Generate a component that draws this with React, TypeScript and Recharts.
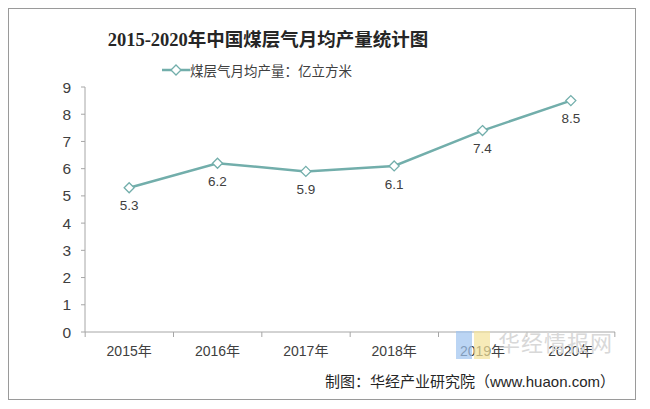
import { LineChart, Line, XAxis, YAxis, LabelList, Legend } from 'recharts';

const years = ['2015年', '2016年', '2017年', '2018年', '2019年', '2020年'];
const output = [5.3, 6.2, 5.9, 6.1, 7.4, 8.5];
const yTicks = [0, 1, 2, 3, 4, 5, 6, 7, 8, 9];
const seriesName = '煤层气月均产量：亿立方米';

const chartData = years.map((year, i) => ({ year, value: output[i] }));

const LINE_COLOR = '#72aeab';
const TEXT_COLOR = '#404040';
const AXIS_COLOR = '#a6a6a6';
const FONT = '"Liberation Sans", "Noto Sans CJK SC", sans-serif';

function Diamond({ cx, cy }: any) {
  if (cx == null || cy == null) return null;
  const r = 5;
  return (
    <path
      d={`M${cx},${cy - r}L${cx + r},${cy}L${cx},${cy + r}L${cx - r},${cy}Z`}
      fill="#fff"
      stroke={LINE_COLOR}
      strokeWidth={1.3}
    />
  );
}

function XTick({ x, y, payload, index }: any) {
  const half = 44;
  return (
    <g>
      <line x1={x - half} x2={x - half} y1={y - 8} y2={y - 3} stroke={AXIS_COLOR} />
      {index === years.length - 1 && (
        <line x1={x + half} x2={x + half} y1={y - 8} y2={y - 3} stroke={AXIS_COLOR} />
      )}
      <text x={x} y={y + 16} textAnchor="middle" fill={TEXT_COLOR} fontSize={14} fontFamily={FONT}>
        {payload.value}
      </text>
    </g>
  );
}

function LegendContent() {
  return (
    <div style={{ display: 'flex', justifyContent: 'center', alignItems: 'center', marginLeft: -146 }}>
      <svg width={28} height={12}>
        <line x1={0} x2={28} y1={6} y2={6} stroke={LINE_COLOR} strokeWidth={2.5} />
        <path d="M14,1L19,6L14,11L9,6Z" fill="#fff" stroke={LINE_COLOR} strokeWidth={1.3} />
      </svg>
      <span style={{ fontSize: 13.5, color: TEXT_COLOR, fontFamily: FONT }}>{seriesName}</span>
    </div>
  );
}

export default function App() {
  return (
    <div
      style={{
        position: 'relative',
        width: 626,
        height: 390,
        border: '1px solid #9a9a9a',
        background: '#fff',
      }}
    >
      <div
        style={{
          position: 'absolute',
          top: 16,
          left: 0,
          width: 518,
          textAlign: 'center',
          fontSize: 18.5,
          fontWeight: 'bold',
          color: '#262626',
          fontFamily: '"Liberation Serif", "Noto Sans CJK SC", serif',
        }}
      >
        2015-2020年中国煤层气月均产量统计图
      </div>
      <LineChart
        width={626}
        height={390}
        data={chartData}
        margin={{ top: 58, right: 20, bottom: 43, left: 36 }}
      >
        <Legend verticalAlign="top" align="center" content={<LegendContent />} wrapperStyle={{ top: 51 }} />
        <XAxis
          dataKey="year"
          scale="band"
          axisLine={{ stroke: AXIS_COLOR }}
          tickLine={false}
          tick={<XTick />}
          height={24}
          interval={0}
        />
        <YAxis
          domain={[0, 9]}
          ticks={yTicks}
          interval={0}
          axisLine={{ stroke: AXIS_COLOR }}
          tickLine={{ stroke: AXIS_COLOR }}
          tickSize={4}
          tickMargin={10}
          tick={{ fill: TEXT_COLOR, fontSize: 15.5, fontFamily: FONT }}
          width={40}
        />
        <Line
          dataKey="value"
          name={seriesName}
          stroke={LINE_COLOR}
          strokeWidth={2.5}
          dot={<Diamond />}
          activeDot={false}
          isAnimationActive={false}
        >
          <LabelList dataKey="value" position="bottom" offset={13} fill={TEXT_COLOR} fontSize={13.5} fontFamily={FONT} />
        </Line>
      </LineChart>
      <div
        style={{
          position: 'absolute',
          right: 22,
          top: 316,
          fontSize: 22,
          color: '#d8d8d8',
          fontFamily: FONT,
          letterSpacing: 1,
        }}
      >
        <span style={{ display: 'inline-block', width: 16, height: 28, background: '#9ec3f0', opacity: 0.7, verticalAlign: 'middle', marginRight: 2 }} />
        <span style={{ display: 'inline-block', width: 16, height: 28, background: '#f3e39a', opacity: 0.7, verticalAlign: 'middle', marginRight: 8 }} />
        华经情报网
      </div>
      <div
        style={{
          position: 'absolute',
          right: 20,
          top: 361,
          fontSize: 15,
          color: '#262626',
          fontFamily: FONT,
        }}
      >
        制图：华经产业研究院（www.huaon.com）
      </div>
    </div>
  );
}
